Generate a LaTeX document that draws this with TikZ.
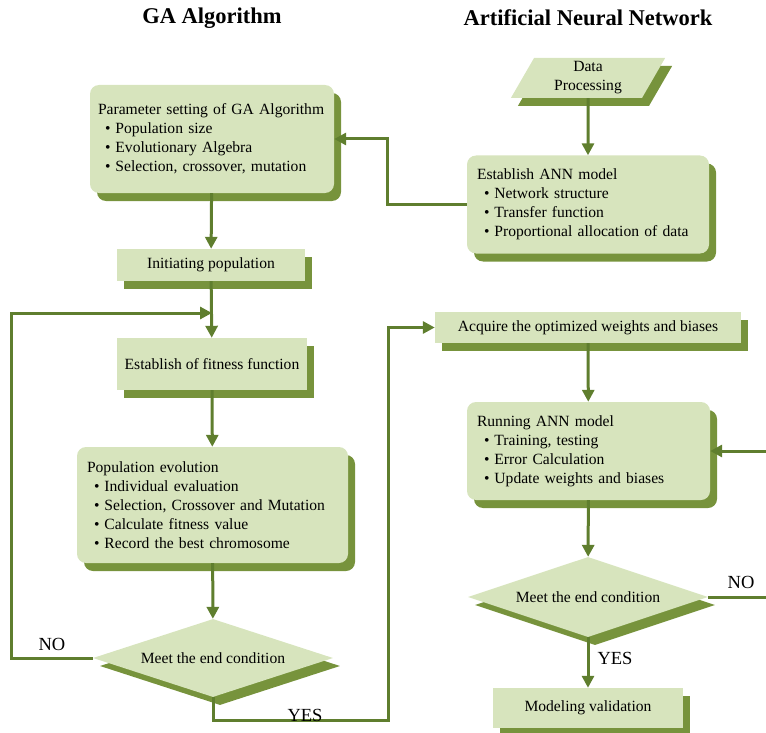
\documentclass[tikz,border=0pt]{standalone}
\usepackage{fontspec}
\setmainfont{Liberation Serif}
\usetikzlibrary{shapes.geometric,shadows,arrows.meta}
\definecolor{boxgreen}{HTML}{D7E4BD}
\definecolor{shadegreen}{HTML}{77933C}
\definecolor{linegreen}{HTML}{5F7E2E}
\newcommand{\itm}{\hspace*{7pt}\textbullet\hspace{5pt}}

\begin{document}
\begin{tikzpicture}[x=1pt,y=-1pt,
  font=\fontsize{15.6}{19}\selectfont,
  base/.style={fill=boxgreen,inner sep=0pt,
    drop shadow={shadow xshift=7pt,shadow yshift=-8pt,fill=shadegreen,opacity=1}},
  plainbox/.style={base,rectangle,align=center},
  roundbox/.style={base,rectangle,rounded corners=9pt,align=left,inner xsep=10pt},
  decision/.style={base,diamond,aspect=3,minimum width=240pt,minimum height=78pt,align=center},
  iobox/.style={base,trapezium,trapezium left angle=66,trapezium right angle=114,
    trapezium stretches=true,minimum width=155pt,minimum height=40pt,align=center},
  flow/.style={draw=linegreen,line width=3pt,-{Triangle[length=12pt,width=12pt]}},
  head/.style={font=\fontsize{22.5}{26}\selectfont\bfseries},
  tag/.style={font=\fontsize{18.5}{22}\selectfont}]

\clip (0,0) rectangle (766,733);

% titles
\node[head] (gatitle) at (212,18) {GA Algorithm};
\node[head] (anntitle) at (588,18) {Artificial Neural Network};

% GA column
\node[roundbox,inner xsep=8pt,text width=228pt,minimum height=108pt] (param) at (212,139)
  {Parameter setting of GA Algorithm\\
   \itm Population size\\
   \itm Evolutionary Algebra\\
   \itm Selection, crossover, mutation};
\node[plainbox,minimum width=188pt,minimum height=32pt] (init) at (211,265) {Initiating population};
\node[plainbox,minimum width=190pt,minimum height=52pt] (fit) at (212,364) {Establish of fitness function};
\node[roundbox,text width=251pt,minimum height=116pt] (pop) at (212.5,505)
  {Population evolution\\
   \itm Individual evaluation\\
   \itm Selection, Crossover and Mutation\\
   \itm Calculate fitness value\\
   \itm Record the best chromosome};
\node[decision] (gacond) at (213,658) {Meet the end condition};

% ANN column
\node[iobox] (data) at (588,78) {Data\\Processing};
\node[roundbox,text width=222pt,minimum height=98pt] (ann) at (588,204.5)
  {Establish ANN model\\
   \itm Network structure\\
   \itm Transfer function\\
   \itm Proportional allocation of data};
\node[plainbox,minimum width=306pt,minimum height=31pt] (acq) at (588,327.5) {Acquire the optimized weights and biases};
\node[roundbox,text width=223pt,minimum height=98pt] (run) at (588.5,451)
  {Running ANN model\\
   \itm Training, testing\\
   \itm Error Calculation\\
   \itm Update weights and biases};
\node[decision,minimum height=80pt] (anncond) at (588,597) {Meet the end condition};
\node[plainbox,minimum width=190pt,minimum height=40pt] (valid) at (588,708) {Modeling validation};

\coordinate (loopin) at (212,313);
\coordinate (yesturn) at (388,720);

% connectors
\draw[flow] (param) -- (init);
\draw[flow] (init) -- (fit);
\draw[flow] (fit) -- (pop);
\draw[flow] (pop) -- (gacond);
\draw[flow] (gacond.west) -- ++(-81,0) |- (loopin);
\draw[flow] (gacond.south) |- (yesturn) |- (acq.west);
\draw[flow] (data) -- (ann);
\draw[flow] (ann.west) -- ++(-79,0) |- (param.east);
\draw[flow] (acq) -- (run);
\draw[flow] (run) -- (anncond);
\draw[flow] (anncond) -- (valid);
\draw[flow] (anncond.east) -- ++(70,0) |- (run.east);

% labels
\node[tag] (nogal) at (52,644) {NO};
\node[tag] (yesga) at (305,715) {YES};
\node[tag] (noann) at (741,582) {NO};
\node[tag] (yesann) at (615,658) {YES};

\end{tikzpicture}
\end{document}
